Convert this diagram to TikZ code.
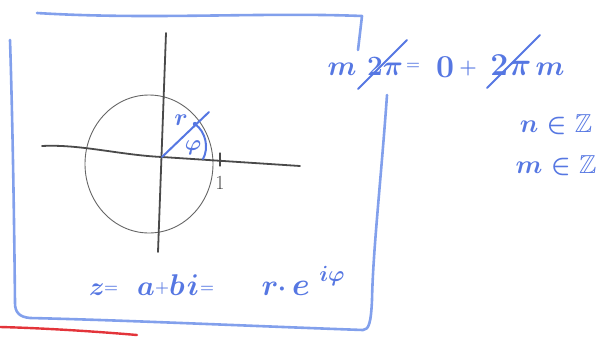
\documentclass[tikz,border=0pt]{standalone}
\usepackage{fix-cm}
\usepackage{amsmath,amssymb}
\usepackage{tikz}
\definecolor{penblue}{HTML}{5677E2}
\definecolor{boxblue}{HTML}{82A0EC}
\definecolor{pencil}{HTML}{4A4A4A}
\definecolor{redpen}{HTML}{E3343A}
\tikzset{
  % schrift
  ink/.style={text=penblue,inner sep=0pt,anchor=base,font=\fontsize{#1}{#1}\selectfont\boldmath},
  inkc/.style={ink=#1,anchor=center},
  num/.style={text=pencil,inner sep=0pt,anchor=base,font=\fontsize{#1}{#1}\selectfont},
  % linien
  frame/.style={draw=boxblue,line width=2.6pt,line cap=round,line join=round},
  axis/.style={draw=pencil,line width=1.8pt,line cap=round},
  circ/.style={draw=pencil!85,line width=0.9pt},
  rad/.style={draw=penblue,line width=2pt,line cap=round},
  strike/.style={draw=penblue,line width=2pt,line cap=round},
  redline/.style={draw=redpen,line width=2.4pt,line cap=round},
}
\begin{document}
\begin{tikzpicture}[x=1pt,y=-1pt]
  \useasboundingbox (0,0) rectangle (605,338);
  % rahmen
  \draw[frame] (37,13) .. controls (150,20) and (260,12) .. (362,16) -- (358,50);
  \draw[frame] (387,95) .. controls (381,180) and (373,250) .. (372,300)
    .. controls (371,322) and (369,330) .. (363,330)
    .. controls (250,326) and (120,320) .. (30,318)
    .. controls (19,317) and (15,312) .. (15,303)
    .. controls (14,200) and (12,100) .. (10,40);
  \draw[redline] (0,327) .. controls (40,328) and (90,331) .. (137,335);
  % achsen und kreis
  \coordinate (o) at (162,157);
  \draw[circ] (149,164) ellipse [x radius=64, y radius=69];
  \draw[axis] (166,33) -- (158,252);
  \draw[axis] (42,146) .. controls (80,144) and (120,155) .. (o) -- (300,166);
  \draw[axis,line width=1.2pt] (220,153) -- (220,166);
  \node[num=20] (one) at (220,189) {1};
  % radius und winkel
  \coordinate (p) at (209,112);
  \coordinate (q) at (195,124);
  \draw[rad] (o) -- (p);
  \fill[penblue] (q) circle (2.2);
  \draw[rad] (q) .. controls (206,132) and (209,148) .. (203,159);
  \node[ink=24] (rlab) at (181,125) {$r$};
  \node[ink=22] (philab) at (193,150) {$\varphi$};
  % perioden
  \node[ink=28] (mA) at (342,75) {$m$};
  \node[ink=28] (tpA) at (385,75) {$2\pi$};
  \node[inkc=16] (eqA) at (413,66) {$=$};
  \node[ink=32] (zero) at (445,77) {$0$};
  \node[inkc=20] (plA) at (468,68) {$+$};
  \node[ink=32] (tpB) at (511,75) {$2\pi$};
  \node[ink=28] (mB) at (550,75) {$m$};
  \draw[strike] (358,89) -- (407,40);
  \draw[strike] (487,88) -- (540,35);
  \node[ink=26] (nZ) at (556,132) {$n\in\mathbb{Z}$};
  \node[ink=26] (mZ) at (556,173) {$m\in\mathbb{Z}$};
  % formel
  \node[ink=26] (zz) at (97,295) {$z$};
  \node[inkc=16] (eqB) at (111,289) {$=$};
  \node[ink=28] (aa) at (146,295) {$a$};
  \node[inkc=16] (plB) at (162,288) {$+$};
  \node[ink=30] (bb) at (177,295) {$b$};
  \node[ink=30] (ii) at (193,295) {$i$};
  \node[inkc=16] (eqC) at (207,289) {$=$};
  \node[ink=30] (rr) at (270,295) {$r$};
  \node[inkc=26] (dt) at (282,289) {$\cdot$};
  \node[ink=32] (ee) at (301,295) {$e$};
  \node[ink=22] (ex) at (332,281) {$i\varphi$};
\end{tikzpicture}
\end{document}
